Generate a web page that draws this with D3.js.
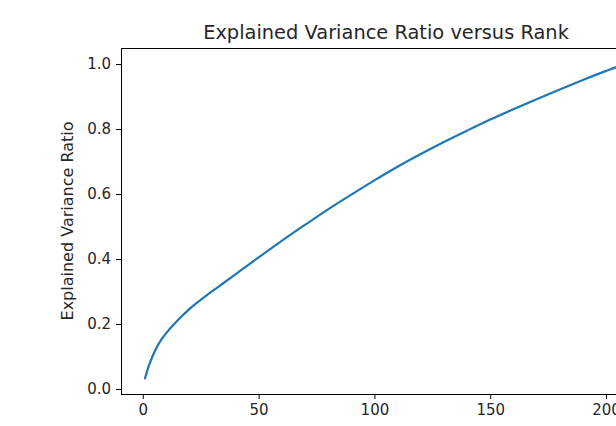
<!DOCTYPE html>
<html>
<head>
<meta charset="utf-8">
<script src="https://cdn.jsdelivr.net/npm/d3@7"></script>
<style>
  html, body { margin: 0; padding: 0; background: #fff; overflow: hidden; }
  svg { display: block; }
  text { font-family: "DejaVu Sans", sans-serif; fill: #262626; }
</style>
</head>
<body>
<svg id="chart" width="616" height="426"></svg>
<script>
// ---- data ----
const ranks = [1, 2, 3, 4, 5, 6, 8, 10, 12, 15, 20, 25, 30, 35, 40, 45, 50, 60, 70, 80, 90, 100,
               110, 120, 130, 140, 150, 160, 170, 180, 190, 200, 205, 209];
const ratios = [0.033, 0.058, 0.079, 0.097, 0.113, 0.128, 0.152, 0.171, 0.188, 0.211, 0.245, 0.274,
                0.301, 0.327, 0.353, 0.379, 0.405, 0.456, 0.505, 0.553, 0.598, 0.642, 0.684, 0.723,
                0.760, 0.795, 0.829, 0.861, 0.892, 0.922, 0.951, 0.979, 0.992, 1.001];
const xTicks = [0, 50, 100, 150, 200];
const yTicks = [0.0, 0.2, 0.4, 0.6, 0.8, 1.0];
const titleText = "Explained Variance Ratio versus Rank";
const yLabelText = "Explained Variance Ratio";

// ---- layout ----
const mLeft = 121, mRight = 651, mTop = 48, mBottom = 394;
const svg = d3.select("#chart");

// matplotlib-style 5% margins
const xExt = d3.extent(ranks), yExt = d3.extent(ratios);
const xPad = (xExt[1] - xExt[0]) * 0.05, yPad = (yExt[1] - yExt[0]) * 0.05;
const x = d3.scaleLinear().domain([xExt[0] - xPad, xExt[1] + xPad]).range([mLeft, mRight]);
const y = d3.scaleLinear().domain([yExt[0] - yPad, yExt[1] + yPad]).range([mBottom, mTop]);

const data = ranks.map((r, i) => ({ r, v: ratios[i] }));

// line
svg.append("path")
  .datum(data)
  .attr("fill", "none")
  .attr("stroke", "#1f77b4")
  .attr("stroke-width", 2.2)
  .attr("stroke-linejoin", "round")
  .attr("stroke-linecap", "square")
  .attr("d", d3.line().x(d => x(d.r)).y(d => y(d.v)).curve(d3.curveMonotoneX));

// axes
const xAxis = d3.axisBottom(x).tickValues(xTicks).tickFormat(d3.format("d")).tickSize(5).tickPadding(5);
const yAxis = d3.axisLeft(y).tickValues(yTicks).tickFormat(d3.format(".1f")).tickSize(5).tickPadding(5);

const gx = svg.append("g").attr("transform", `translate(0,${mBottom})`).call(xAxis);
const gy = svg.append("g").attr("transform", `translate(${mLeft},0)`).call(yAxis);
[gx, gy].forEach(g => {
  g.select(".domain").remove();
  g.selectAll(".tick line").attr("stroke", "#000").attr("stroke-width", 1);
  g.selectAll(".tick text").attr("font-size", 15).attr("fill", "#262626")
    .style("font-family", "DejaVu Sans, sans-serif");
});

// frame (spines)
svg.append("rect")
  .attr("x", mLeft + 0.5).attr("y", mTop + 0.5)
  .attr("width", mRight - mLeft).attr("height", mBottom - mTop)
  .attr("fill", "none").attr("stroke", "#000").attr("stroke-width", 1);

// title
svg.append("text")
  .attr("x", (mLeft + mRight) / 2).attr("y", 39)
  .attr("text-anchor", "middle")
  .attr("font-size", 19.4)
  .text(titleText);

// y label
svg.append("text")
  .attr("transform", `translate(73,${(mTop + mBottom) / 2}) rotate(-90)`)
  .attr("text-anchor", "middle")
  .attr("font-size", 16)
  .text(yLabelText);
</script>
</body>
</html>
